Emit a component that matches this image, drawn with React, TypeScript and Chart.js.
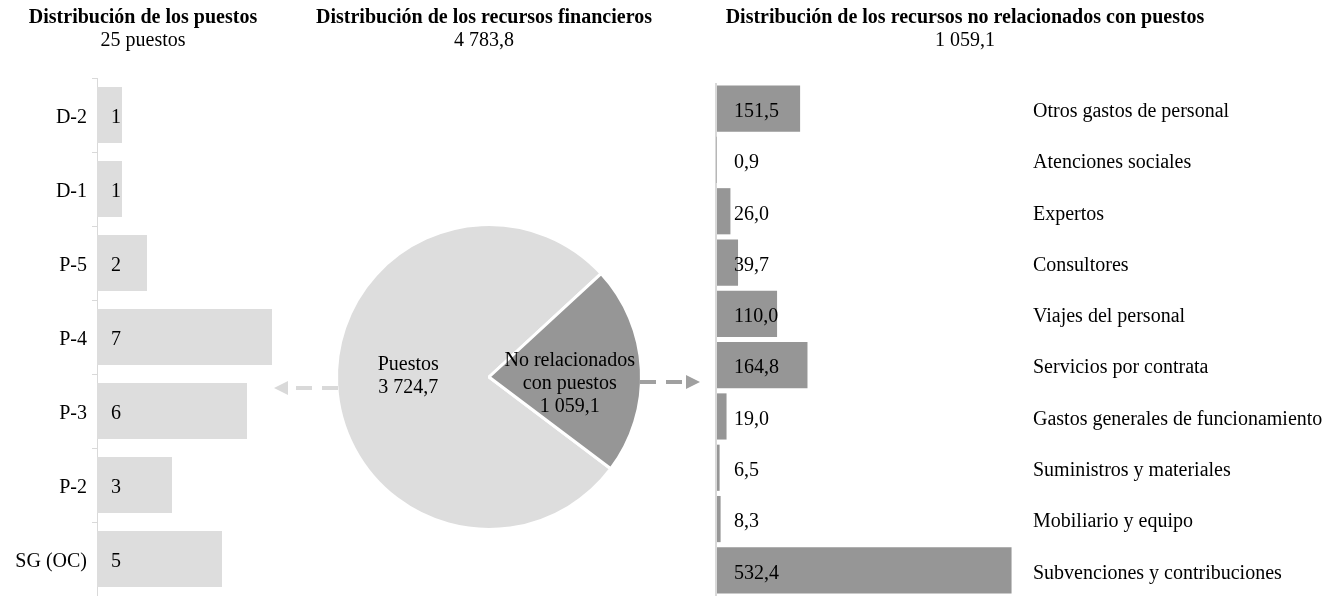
import React, { useEffect, useRef } from "react";
import { Chart, registerables } from "chart.js";

Chart.register(...registerables);

const FONT = '"Liberation Serif", "Times New Roman", Times, serif';

// ---------- Data ----------
const gradeLabels = ["D-2", "D-1", "P-5", "P-4", "P-3", "P-2", "SG (OC)"];
const gradeCounts = [1, 1, 2, 7, 6, 3, 5];

const pieNames = ["Puestos", "No relacionados con puestos"];
const pieLabelLines = [["Puestos"], ["No relacionados", "con puestos"]];
const pieValues = [3724.7, 1059.1];

const itemLabels = [
  "Otros gastos de personal",
  "Atenciones sociales",
  "Expertos",
  "Consultores",
  "Viajes del personal",
  "Servicios por contrata",
  "Gastos generales de funcionamiento",
  "Suministros y materiales",
  "Mobiliario y equipo",
  "Subvenciones y contribuciones",
];
const itemValues = [151.5, 0.9, 26.0, 39.7, 110.0, 164.8, 19.0, 6.5, 8.3, 532.4];

const titles = [
  "Distribución de los puestos",
  "Distribución de los recursos financieros",
  "Distribución de los recursos no relacionados con puestos",
];

// ---------- Helpers ----------
function fmt1(v: number): string {
  const [i, d] = v.toFixed(1).split(".");
  return i.replace(/\B(?=(\d{3})+(?!\d))/g, " ") + "," + d;
}

const LIGHT = "#dddddd";
const DARK = "#969696";
const TEXT_DY = 3;

function valueLabelPlugin(id: string, offset: number, format: (v: number) => string) {
  return {
    id,
    afterDatasetsDraw(chart: any) {
      const { ctx, chartArea } = chart;
      const meta = chart.getDatasetMeta(0);
      const data = chart.data.datasets[0].data as number[];
      ctx.save();
      ctx.font = `20px ${FONT}`;
      ctx.fillStyle = "#000";
      ctx.textAlign = "left";
      ctx.textBaseline = "middle";
      meta.data.forEach((el: any, i: number) => {
        ctx.fillText(format(data[i]), chartArea.left + offset, el.y + TEXT_DY);
      });
      ctx.restore();
    },
  };
}

function drawArrow(ctx: CanvasRenderingContext2D, x0: number, x1: number, y: number, color: string) {
  const dir = Math.sign(x1 - x0);
  const head = 14;
  ctx.save();
  ctx.strokeStyle = color;
  ctx.lineWidth = 4;
  ctx.setLineDash([16, 10]);
  ctx.beginPath();
  ctx.moveTo(x0, y);
  ctx.lineTo(x1 - dir * (head + 3), y);
  ctx.stroke();
  ctx.setLineDash([]);
  ctx.fillStyle = color;
  ctx.beginPath();
  ctx.moveTo(x1, y);
  ctx.lineTo(x1 - dir * head, y - 7);
  ctx.lineTo(x1 - dir * head, y + 7);
  ctx.closePath();
  ctx.fill();
  ctx.restore();
}

const LABEL_ANGLE_SHIFT = (5.5 * Math.PI) / 180;

const pieDecorPlugin = {
  id: "pieDecor",
  afterDatasetsDraw(chart: any) {
    const { ctx } = chart;
    const meta = chart.getDatasetMeta(0);
    const data = chart.data.datasets[0].data as number[];
    ctx.save();
    ctx.font = `20px ${FONT}`;
    ctx.fillStyle = "#000";
    ctx.textAlign = "center";
    ctx.textBaseline = "middle";
    meta.data.forEach((el: any, i: number) => {
      const p = el.getProps(["x", "y", "startAngle", "endAngle", "outerRadius"], true);
      const mid = (p.startAngle + p.endAngle) / 2 + LABEL_ANGLE_SHIFT;
      const r = p.outerRadius * 0.53;
      const cx = p.x + Math.cos(mid) * r;
      const cy = p.y + Math.sin(mid) * r;
      const lines = [...pieLabelLines[i], fmt1(data[i])];
      const lh = 23;
      const top = cy - ((lines.length - 1) * lh) / 2 + TEXT_DY;
      lines.forEach((t, k) => ctx.fillText(t, cx, top + k * lh));
    });
    ctx.restore();
  },
  afterDraw(chart: any) {
    const { ctx } = chart;
    const el: any = chart.getDatasetMeta(0).data[0];
    if (!el) return;
    const p = el.getProps(["x", "y", "outerRadius"], true);
    const r = p.outerRadius - 1.5;
    drawArrow(ctx, p.x - r, p.x - r - 64, p.y + 11, "#d9d9d9");
    drawArrow(ctx, p.x + r, p.x + r + 60, p.y + 5, "#a0a0a0");
  },
};

export default function App() {
  const leftRef = useRef<HTMLCanvasElement>(null);
  const pieRef = useRef<HTMLCanvasElement>(null);
  const rightRef = useRef<HTMLCanvasElement>(null);

  useEffect(() => {
    const charts: Chart[] = [];

    charts.push(
      new Chart(leftRef.current!, {
        type: "bar",
        data: {
          labels: gradeLabels,
          datasets: [
            {
              data: gradeCounts,
              backgroundColor: LIGHT,
              barPercentage: 0.76,
              categoryPercentage: 1,
            },
          ],
        },
        options: {
          indexAxis: "y",
          responsive: false,
          animation: false,
          layout: { padding: { left: 0, right: 3, top: 78, bottom: 0 } },
          scales: {
            x: { display: false, min: 0, max: 8 },
            y: {
              position: "left",
              grid: {
                drawOnChartArea: false,
                drawTicks: true,
                tickLength: 5,
                color: "#d9d9d9",
                offset: true,
              },
              border: { color: "#d9d9d9" },
              ticks: {
                color: "#000",
                font: { family: FONT, size: 20 },
                padding: 5,
                labelOffset: TEXT_DY,
                autoSkip: false,
              },
              afterFit: (s: any) => {
                s.width = 97;
                s.paddingTop = 0;
                s.paddingBottom = 0;
              },
            },
          },
          plugins: { legend: { display: false }, tooltip: { enabled: false } },
        },
        plugins: [valueLabelPlugin("gradeValues", 14, (v) => String(v))],
      } as any)
    );

    charts.push(
      new Chart(pieRef.current!, {
        type: "pie",
        data: {
          labels: pieNames,
          datasets: [
            {
              data: pieValues,
              backgroundColor: [LIGHT, DARK],
              borderColor: "#ffffff",
              borderWidth: 3,
              radius: 152.5,
              rotation: 127,
            },
          ],
        },
        options: {
          responsive: false,
          animation: false,
          layout: { padding: { left: 3, right: 0, top: 158, bottom: 0 } },
          plugins: { legend: { display: false }, tooltip: { enabled: false } },
        },
        plugins: [pieDecorPlugin],
      } as any)
    );

    charts.push(
      new Chart(rightRef.current!, {
        type: "bar",
        data: {
          labels: itemLabels,
          datasets: [
            {
              data: itemValues,
              backgroundColor: DARK,
              barPercentage: 0.9,
              categoryPercentage: 1,
            },
          ],
        },
        options: {
          indexAxis: "y",
          responsive: false,
          animation: false,
          layout: { padding: { left: 16, right: 0, top: 83, bottom: 0 } },
          scales: {
            x: {
              min: 0,
              max: 535,
              position: "bottom",
              ticks: { display: false },
              grid: {
                drawTicks: false,
                color: (c: any) =>
                  c.tick && c.tick.value === 0 ? "#d9d9d9" : "rgba(0,0,0,0)",
                lineWidth: (c: any) => (c.tick && c.tick.value === 0 ? 2 : 1),
              },
              border: { display: false },
            },
            y: {
              position: "right",
              grid: { display: false, drawTicks: false },
              border: { display: false },
              ticks: {
                color: "#000",
                font: { family: FONT, size: 20 },
                padding: 20,
                labelOffset: TEXT_DY,
                autoSkip: false,
              },
              afterFit: (s: any) => {
                s.width = 323;
                s.paddingTop = 0;
                s.paddingBottom = 0;
              },
            },
          },
          plugins: { legend: { display: false }, tooltip: { enabled: false } },
        },
        plugins: [valueLabelPlugin("itemValues", 18, fmt1)],
      } as any)
    );

    return () => charts.forEach((c) => c.destroy());
  }, []);

  const titleBox = (center: number, title: string, sub: string) => (
    <div
      style={{
        position: "absolute",
        left: center - 300,
        top: 5,
        width: 600,
        textAlign: "center",
        fontFamily: FONT,
        fontSize: 20,
        lineHeight: "23px",
        color: "#000",
        whiteSpace: "nowrap",
      }}
    >
      <div style={{ fontWeight: "bold" }}>{title}</div>
      <div>{sub}</div>
    </div>
  );

  const totalPositions = gradeCounts.reduce((a, b) => a + b, 0);
  const totalResources = pieValues.reduce((a, b) => a + b, 0);

  return (
    <div
      style={{
        position: "absolute",
        left: 0,
        top: 0,
        width: 1336,
        height: 596,
        overflow: "hidden",
        background: "#fff",
      }}
    >
      <canvas
        ref={leftRef}
        width={300}
        height={596}
        style={{ position: "absolute", left: 0, top: 0, width: 300, height: 596 }}
      />
      <canvas
        ref={pieRef}
        width={455}
        height={596}
        style={{ position: "absolute", left: 260, top: 0, width: 455, height: 596 }}
      />
      <canvas
        ref={rightRef}
        width={636}
        height={596}
        style={{ position: "absolute", left: 700, top: 0, width: 636, height: 596 }}
      />
      {titleBox(143, titles[0], `${totalPositions} puestos`)}
      {titleBox(484, titles[1], fmt1(totalResources))}
      {titleBox(965, titles[2], fmt1(pieValues[1]))}
    </div>
  );
}
